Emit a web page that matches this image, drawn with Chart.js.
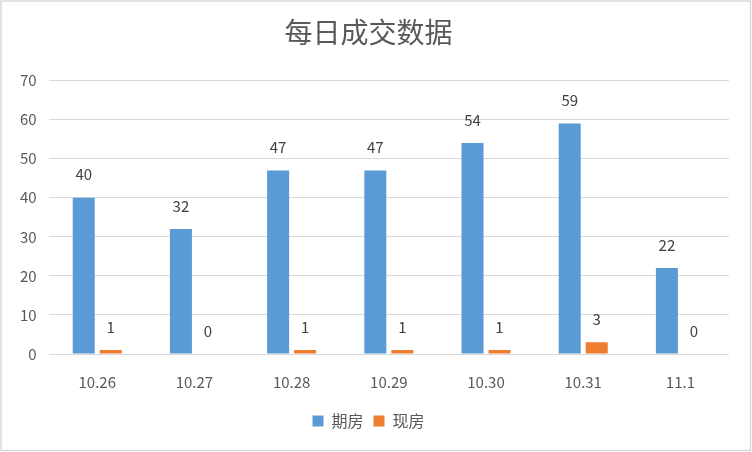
<!DOCTYPE html>
<html><head><meta charset="utf-8">
<script src="https://cdn.jsdelivr.net/npm/chart.js@4"></script>
<style>html,body{margin:0;padding:0;background:#fff}#wrap{width:752px;height:452px}</style>
</head><body><div id="wrap"><canvas id="c" width="752" height="452"></canvas></div>
<script>
const categories = ["10.26","10.27","10.28","10.29","10.30","10.31","11.1"];
const futureHomes = [40,32,47,47,54,59,22];
const readyHomes = [1,0,1,1,1,3,0];
const seriesNames = ["期房","现房"];
const titleText = "每日成交数据";

const FONT = "'Noto Sans CJK SC','Noto Sans',sans-serif";

const border = {
  id:'border',
  beforeDraw(chart){
    const c = chart.ctx;
    c.save();
    c.fillStyle = '#fff';
    c.fillRect(0,0,chart.width,chart.height);
    c.strokeStyle = '#D9D9D9';
    c.lineWidth = 1.5;
    c.strokeRect(1,1,chart.width-2.5,chart.height-2.5);
    c.restore();
  }
};
const labels = {
  id:'labels',
  afterDatasetsDraw(chart){
    const c = chart.ctx;
    c.save();
    c.font = "15px " + FONT;
    c.fillStyle = '#404040';
    c.textAlign = 'center';
    c.textBaseline = 'middle';
    chart.data.datasets.forEach((ds,i)=>{
      chart.getDatasetMeta(i).data.forEach((el,j)=>{
        c.fillText(String(ds.data[j]), el.x, el.y - 23);
      });
    });
    c.restore();
  }
};

new Chart(document.getElementById('c'), {
  type:'bar',
  data:{
    labels: categories,
    datasets:[
      {label: seriesNames[0], data: futureHomes, backgroundColor:'#5B9BD5', categoryPercentage:0.556, barPercentage:0.815},
      {label: seriesNames[1], data: readyHomes, backgroundColor:'#ED7D31', categoryPercentage:0.556, barPercentage:0.815}
    ]
  },
  options:{
    responsive:false,
    animation:false,
    devicePixelRatio:1,
    layout:{padding:{left:8,right:23,top:4,bottom:13}},
    plugins:{
      title:{display:true, text:titleText, color:'#595959', font:{family:FONT, size:28, weight:'normal'}, padding:{top:12,bottom:31}},
      legend:{position:'bottom', labels:{color:'#595959', font:{family:FONT,size:16}, boxWidth:11, boxHeight:11, padding:10}},
      tooltip:{enabled:false}
    },
    scales:{
      x:{grid:{display:false}, border:{display:false}, ticks:{color:'#595959', font:{family:FONT,size:15}, padding:11},
         afterFit(s){ s.height = 49; }},
      y:{min:0,max:70, ticks:{stepSize:10, color:'#595959', font:{family:FONT,size:15}, padding:12},
         grid:{color:'#D9D9D9', lineWidth:1, drawTicks:false}, border:{display:false}}
    }
  },
  plugins:[border, labels]
});
</script></body></html>
